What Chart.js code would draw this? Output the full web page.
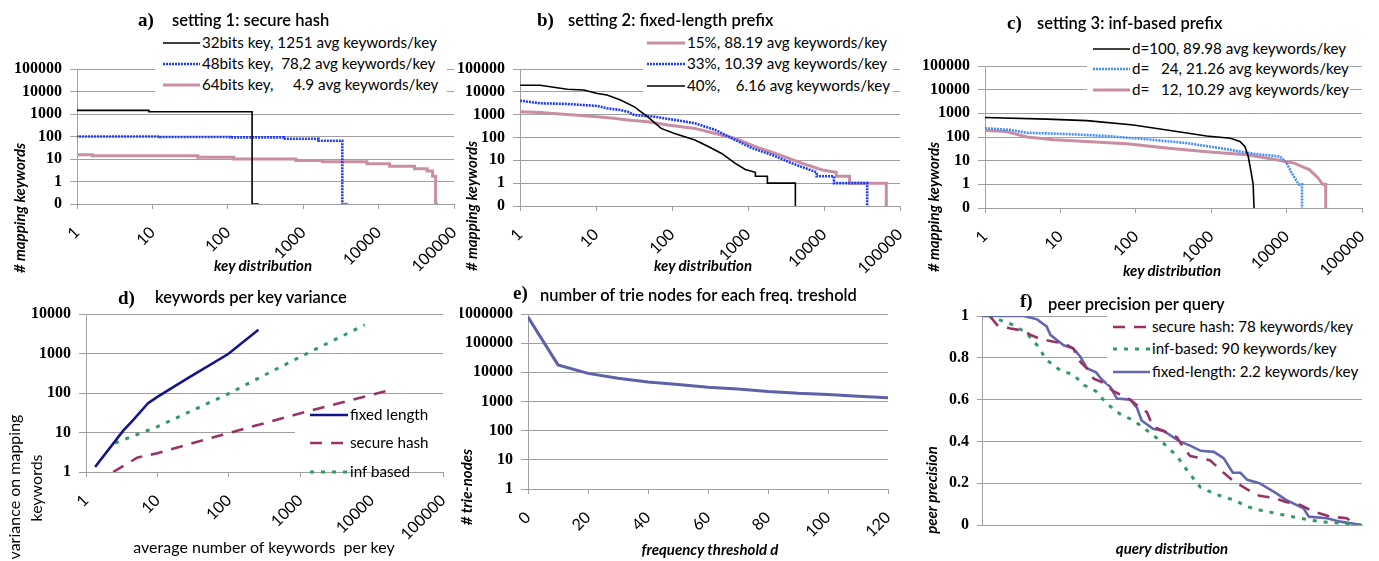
<!DOCTYPE html>
<html>
<head>
<meta charset="utf-8">
<script src="https://cdn.jsdelivr.net/npm/chart.js@4.4.0/dist/chart.umd.min.js"></script>
<style>
  body { margin: 0; background: #fff; }
  #page { position: relative; width: 1379px; height: 561px; overflow: hidden; font-family: Lato, "Open Sans", sans-serif; }
  #page canvas { position: absolute; }
  .txt { position: absolute; white-space: pre; color: #000; line-height: 1; }
  .ttl { font-size: 16.5px; font-weight: 600; }
  .lbl { font-family: "Liberation Serif", serif; font-weight: bold; font-size: 19px; }
  .leg { font-size: 15.2px; }
  .ax { font-size: 15px; font-weight: bold; font-style: italic; }
  .axn { font-size: 16px; }
  .bg { position: absolute; background: #fff; }
</style>
</head>
<body>
<div id="page"></div>
<script>
// shared tick values
const keyTicks = [1, 10, 100, 1000, 10000, 100000];
const countTicks = [0.1, 1, 10, 100, 1000, 10000, 100000];

// a) setting 1: secure hash
const aNames = ['32bits key, 1251 avg keywords/key', '48bits key,  78,2 avg keywords/key', '64bits key,     4.9 avg keywords/key'];
const a32X = [1, 9, 210, 258];
const a32Y = [1650, 1450, 1250, 0.1];
const a48X = [1, 12.6, 107, 550, 1600, 3300, 3960];
const a48Y = [110, 100, 95, 91, 80, 65, 0.1];
const a64X = [1, 1.6, 40, 120, 800, 1800, 7000, 14000, 30000, 44000, 52000, 57000, 61500];
const a64Y = [17, 15.3, 13.8, 12, 10, 8.6, 7.5, 6.1, 4.8, 3.7, 2.9, 1.7, 0.1];

// b) setting 2: fixed-length prefix
const bNames = ['15%, 88.19 avg keywords/key', '33%, 10.39 avg keywords/key', '40%,    6.16 avg keywords/key'];
const b15X = [1, 1.84, 5.1, 10.4, 17, 26, 48, 88, 200, 370, 680, 1250, 2300, 5200, 9500, 14500, 14500, 21700, 21700, 66000, 66000];
const b15Y = [1350, 1250, 960, 810, 690, 590, 490, 350, 250, 150, 91, 40, 20, 7.4, 3.8, 3, 2, 2, 1, 1, 0.1];
const b33X = [1, 1.84, 4.2, 10.4, 14, 21, 26, 32, 59, 108, 200, 370, 680, 1140, 2100, 3800, 6300, 8000, 8000, 13500, 13500, 37000, 37000];
const b33Y = [4100, 3150, 2950, 2400, 1900, 1600, 1350, 960, 810, 590, 420, 215, 78, 34, 17, 7.4, 4, 3, 2, 2, 1, 1, 0.1];
const b40X = [1, 1.84, 4.2, 6.9, 10.4, 14, 21, 32, 48, 72, 108, 200, 300, 450, 680, 920, 1250, 1250, 1800, 1800, 4200, 4200];
const b40Y = [19500, 19500, 13000, 12000, 8500, 7300, 4400, 2200, 800, 250, 150, 78, 40, 20, 7.4, 4, 3, 2, 2, 1, 1, 0.1];

// c) setting 3: inf-based prefix
const cNames = ['d=100, 89.98 avg keywords/key', 'd=   24, 21.26 avg keywords/key', 'd=   12, 10.29 avg keywords/key'];
const c100X = [1, 6.6, 22.4, 93, 316, 870, 1800, 2400, 2800, 3100, 3400, 3600, 3700];
const c100Y = [670, 570, 490, 320, 180, 110, 89, 65, 40, 15, 3, 1, 0.1];
const c24X = [1, 2.1, 3.6, 12, 41, 140, 480, 1300, 3600, 8200, 10000, 11700, 14500, 16000, 16000];
const c24Y = [235, 200, 150, 134, 110, 80, 55, 34, 19.6, 15, 8, 3, 1, 1, 0.1];
const c12X = [1, 1.9, 3.6, 8.1, 22, 76, 255, 870, 2950, 6700, 12300, 20000, 26000, 30000, 33000, 33000];
const c12Y = [186, 170, 100, 76, 65, 52, 34, 24, 17.6, 11.5, 8, 4.2, 1.9, 1, 1, 0.1];

// d) keywords per key variance
const dNames = ['fixed length', 'secure hash', 'inf based'];
const dTicksY = [1, 10, 100, 1000, 10000];
const dFixedX = [1.34, 3.3, 4.6, 7.4, 10, 26, 98, 260];
const dFixedY = [1.34, 11, 21, 55, 80, 230, 970, 4000];
const dHashX = [2.4, 5.2, 10, 80, 1170, 20000];
const dHashY = [1, 2.3, 3, 8.7, 33, 125];
const dInfX = [2.55, 10, 104, 275, 1240, 8000];
const dInfY = [5.4, 14, 100, 250, 1000, 5300];

// e) number of trie nodes for each freq. treshold
const eTicksX = [0, 20, 40, 60, 80, 100, 120];
const eTicksY = [1, 10, 100, 1000, 10000, 100000, 1000000];
const eThreshold = [0, 10, 20, 30, 40, 50, 60, 70, 80, 90, 100, 110, 120];
const eNodes = [780000, 18000, 9200, 6300, 4700, 3800, 3100, 2700, 2200, 1900, 1750, 1500, 1350];

// f) peer precision per query
const fNames = ['secure hash: 78 keywords/key', 'inf-based: 90 keywords/key', 'fixed-length: 2.2 keywords/key'];
const fTicksY = [0, 0.2, 0.4, 0.6, 0.8, 1];
const fHashX = [2.2, 4, 7.5, 11, 12.7, 15.4, 18.9, 21.5, 24, 25.9, 27.6, 29.4, 32, 34.6, 39, 41.7, 43.4, 45, 47.8, 51.3, 53, 54.8, 60, 63.6, 66.2, 69.8, 73, 76.8, 80, 83.8, 87.2, 91.7, 96, 97.8];
const fHashY = [0.997, 0.957, 0.94, 0.93, 0.91, 0.89, 0.877, 0.87, 0.845, 0.78, 0.75, 0.7, 0.68, 0.64, 0.6, 0.56, 0.54, 0.47, 0.45, 0.42, 0.37, 0.33, 0.31, 0.25, 0.21, 0.17, 0.14, 0.13, 0.11, 0.096, 0.064, 0.04, 0.032, 0.011];
const fInfX = [1.75, 4.8, 8.3, 11.8, 14.5, 17, 20.6, 24, 26.8, 30, 32.9, 36.4, 39.9, 44.3, 47.8, 51.3, 54, 57.5, 61.8, 66.2, 69.8, 73, 79.4, 83.8, 89, 95, 100];
const fInfY = [1, 0.98, 0.957, 0.917, 0.86, 0.79, 0.74, 0.72, 0.67, 0.64, 0.58, 0.53, 0.5, 0.44, 0.39, 0.33, 0.26, 0.18, 0.145, 0.12, 0.088, 0.072, 0.048, 0.032, 0.016, 0.008, 0];
const fFixedX = [0, 11, 14.5, 17, 18, 19.7, 21.5, 24, 25.9, 27.6, 30, 31.6, 33.8, 35.5, 39, 40.8, 42, 45, 47.8, 52, 54.8, 57.5, 61, 63.6, 66, 68, 69.8, 73, 77.6, 80, 84.6, 86, 90.8, 94.3, 100];
const fFixedY = [1, 1, 0.984, 0.95, 0.91, 0.885, 0.86, 0.845, 0.805, 0.75, 0.73, 0.695, 0.66, 0.605, 0.6, 0.56, 0.5, 0.46, 0.45, 0.4, 0.38, 0.355, 0.35, 0.32, 0.25, 0.25, 0.216, 0.2, 0.15, 0.12, 0.08, 0.04, 0.032, 0.016, 0];

const GRID = '#a0a0a0';
const SERIF = '"Liberation Serif", "Times New Roman", serif';
const page = document.getElementById('page');

// series styles
const sBlack = { color: '#000000', width: 1.6, dash: [] };
const sBlue = { color: '#1f3cf5', width: 2.6, dash: [2, 1] };
const sPink = { color: '#c98ea3', width: 3, dash: [] };
const sLightBlue = { color: '#4a8ef0', width: 2.6, dash: [2, 1] };
const sNavy = { color: '#14148c', width: 2.6, dash: [] };
const sHash = { color: '#993366', width: 2.6, dash: [12, 9] };
const sInf = { color: '#2f9a62', width: 3, dash: [4, 7] };
const sSlate = { color: '#5e60a8', width: 3, dash: [] };
const sFixed = { color: '#6466ae', width: 2.6, dash: [] };

function series(xs, ys, st, stepped) {
  return {
    data: xs.map((x, i) => ({ x: x, y: ys[i] })),
    borderColor: st.color,
    borderWidth: st.width,
    borderDash: st.dash,
    stepped: stepped || false,
    fill: false
  };
}

function logX(vals, min, max) {
  return {
    type: 'logarithmic', min: min, max: max,
    afterBuildTicks: s => { s.ticks = vals.map(v => ({ value: v })); },
    grid: { drawOnChartArea: false, tickLength: 5, color: GRID },
    border: { color: GRID },
    ticks: { autoSkip: false, minRotation: 45, maxRotation: 45, padding: 14, color: '#000',
      font: { family: 'Lato', size: 16 }, callback: v => String(v) }
  };
}

function logY(vals, min, max) {
  return {
    type: 'logarithmic', min: min, max: max,
    afterBuildTicks: s => { s.ticks = vals.map(v => ({ value: v })); },
    grid: { color: GRID, tickLength: 7 },
    border: { color: GRID },
    ticks: { autoSkip: false, padding: 8, color: '#000',
      font: { family: SERIF, size: 16, weight: 'bold' },
      callback: v => (v === 0.1 ? '0' : String(v)) }
  };
}

// one canvas per panel, chart area pinned to the reference position
function plot(box, area, xScale, yScale, datasets) {
  const cv = document.createElement('canvas');
  cv.width = box.w; cv.height = box.h;
  cv.style.left = box.x + 'px'; cv.style.top = box.y + 'px';
  page.appendChild(cv);
  xScale.afterFit = s => {
    s.height = box.y + box.h - area.bottom;
    s.paddingLeft = 0; s.paddingRight = 0;
  };
  yScale.afterFit = s => {
    s.width = area.left - box.x;
    s.paddingTop = 0; s.paddingBottom = 0;
  };
  return new Chart(cv, {
    type: 'line',
    data: { datasets: datasets },
    options: {
      responsive: false,
      animation: false,
      layout: { padding: { top: area.top - box.y, right: box.x + box.w - area.right, left: 0, bottom: 0 } },
      plugins: { legend: { display: false }, tooltip: { enabled: false } },
      elements: { point: { radius: 0 }, line: { tension: 0 } },
      scales: { x: xScale, y: yScale }
    }
  });
}

function txt(str, x, y, cls, mode) {
  const el = document.createElement('div');
  el.className = 'txt ' + cls;
  el.textContent = str;
  el.style.left = x + 'px';
  el.style.top = y + 'px';
  if (mode === 'center') el.style.transform = 'translate(-50%,-50%)';
  else if (mode === 'rot') el.style.transform = 'translate(-50%,-50%) rotate(-90deg)';
  else el.style.transform = 'translate(0,-50%)';
  page.appendChild(el);
  return el;
}

function legend(bg, sx0, sx1, tx, rowY, names, styles) {
  if (bg) {
    const b = document.createElement('div');
    b.className = 'bg';
    Object.assign(b.style, { left: bg.x + 'px', top: bg.y + 'px', width: bg.w + 'px', height: bg.h + 'px' });
    page.appendChild(b);
  }
  names.forEach((n, i) => {
    const st = styles[i];
    const svg = document.createElementNS('http://www.w3.org/2000/svg', 'svg');
    svg.setAttribute('width', sx1 - sx0);
    svg.setAttribute('height', 8);
    svg.style.position = 'absolute';
    svg.style.left = sx0 + 'px';
    svg.style.top = (rowY[i] - 4) + 'px';
    svg.innerHTML = `<line x1="0" y1="4" x2="${sx1 - sx0}" y2="4" stroke="${st.color}" stroke-width="${st.width}" stroke-dasharray="${st.dash.length ? st.dash.join(' ') : 'none'}"/>`;
    page.appendChild(svg);
    txt(n, tx, rowY[i], 'leg');
  });
}

// a)
plot({ x: 0, y: 0, w: 470, h: 280 }, { left: 77, right: 454, top: 69, bottom: 204 },
  logX(keyTicks, 1, 100000), logY(countTicks, 0.1, 100000),
  [series(a32X, a32Y, sBlack, 'after'), series(a48X, a48Y, sBlue, 'after'), series(a64X, a64Y, sPink, 'after')]);

// b)
plot({ x: 440, y: 0, w: 470, h: 280 }, { left: 520, right: 900, top: 69, bottom: 206 },
  logX(keyTicks, 1, 100000), logY(countTicks, 0.1, 100000),
  [series(b40X, b40Y, sBlack), series(b33X, b33Y, sBlue), series(b15X, b15Y, sPink)]);

// c)
plot({ x: 910, y: 0, w: 469, h: 280 }, { left: 985, right: 1362, top: 66, bottom: 208 },
  logX(keyTicks, 1, 100000), logY(countTicks, 0.1, 100000),
  [series(c100X, c100Y, sBlack), series(c24X, c24Y, sLightBlue), series(c12X, c12Y, sPink)]);

// d)
plot({ x: 0, y: 280, w: 460, h: 281 }, { left: 86, right: 443, top: 314, bottom: 472 },
  logX(keyTicks, 1, 100000), logY(dTicksY, 1, 10000),
  [series(dFixedX, dFixedY, sNavy), series(dHashX, dHashY, sHash), series(dInfX, dInfY, sInf)]);

// e)
const eX = {
  type: 'linear', min: 0, max: 120,
  afterBuildTicks: s => { s.ticks = eTicksX.map(v => ({ value: v })); },
  grid: { drawOnChartArea: false, tickLength: 5, color: GRID },
  border: { color: GRID },
  ticks: { autoSkip: false, minRotation: 45, maxRotation: 45, padding: 14, color: '#000', font: { family: 'Lato', size: 16 } }
};
plot({ x: 460, y: 280, w: 450, h: 281 }, { left: 528, right: 888, top: 314, bottom: 489 },
  eX, logY(eTicksY, 1, 1000000), [series(eThreshold, eNodes, sSlate)]);

// f)
const fX = { type: 'linear', min: 0, max: 100, grid: { display: false }, border: { color: GRID }, ticks: { display: false } };
const fY = {
  type: 'linear', min: 0, max: 1,
  afterBuildTicks: s => { s.ticks = fTicksY.map(v => ({ value: v })); },
  grid: { color: GRID, tickLength: 5 },
  border: { color: GRID },
  ticks: { padding: 8, color: '#000', font: { family: SERIF, size: 16, weight: 'bold' },
    callback: v => String(Math.round(v * 10) / 10) }
};
plot({ x: 910, y: 280, w: 469, h: 281 }, { left: 982, right: 1362, top: 316, bottom: 525 },
  fX, fY, [series(fHashX, fHashY, sHash), series(fInfX, fInfY, sInf), series(fFixedX, fFixedY, sFixed)]);

// legends
legend({ x: 155, y: 33, w: 292, h: 64 }, 163, 200, 202, [43, 64, 85], aNames, [sBlack, sBlue, sPink]);
legend({ x: 643, y: 33, w: 250, h: 64 }, 647, 685, 687, [43, 64, 86], bNames, [sPink, sBlue, sBlack]);
legend({ x: 1087, y: 38, w: 263, h: 64 }, 1093, 1130, 1132, [49, 69, 90], cNames, [sBlack, sLightBlue, sPink]);
legend({ x: 295, y: 420, w: 150, h: 42 }, 310, 348, 350, [415, 443, 472], dNames, [sNavy, sHash, sInf]);
legend({ x: 1107, y: 314, w: 272, h: 70 }, 1113, 1150, 1152, [327, 349, 372], fNames, [sHash, sInf, sFixed]);

// panel titles
txt('a)', 138, 19, 'lbl'); txt('setting 1: secure hash', 172, 20, 'ttl');
txt('b)', 537, 19, 'lbl'); txt('setting 2: fixed-length prefix', 568, 20, 'ttl');
txt('c)', 1007, 22, 'lbl'); txt('setting 3: inf-based prefix', 1037, 23, 'ttl');
txt('d)', 118, 297, 'lbl'); txt('keywords per key variance', 155, 297, 'ttl');
txt('e)', 513, 292, 'lbl'); txt('number of trie nodes for each freq. treshold', 540, 295, 'ttl');
txt('f)', 1020, 300, 'lbl'); txt('peer precision per query', 1048, 304, 'ttl');

// axis titles
txt('# mapping keywords', 19, 208, 'ax', 'rot');
txt('# mapping keywords', 471, 206, 'ax', 'rot');
txt('# mapping keywords', 933, 207, 'ax', 'rot');
txt('key distribution', 263, 265, 'ax', 'center');
txt('key distribution', 703, 265, 'ax', 'center');
txt('key distribution', 1172, 270, 'ax', 'center');
txt('variance on mapping', 14, 487, 'axn', 'rot');
txt('keywords', 36, 488, 'axn', 'rot');
txt('average number of keywords  per key', 264, 547, 'axn', 'center');
txt('# trie-nodes', 466, 487, 'ax', 'rot');
txt('frequency threshold d', 710, 549, 'ax', 'center');
txt('peer precision', 931, 490, 'ax', 'rot');
txt('query distribution', 1172, 548, 'ax', 'center');
</script>
</body>
</html>
